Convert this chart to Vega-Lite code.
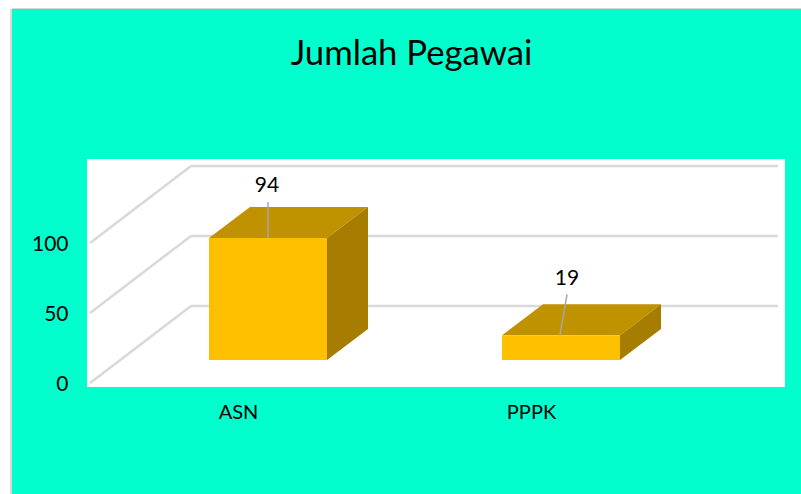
{
"$schema":"https://vega.github.io/schema/vega-lite/v6.json",
"width":789,"height":485,
"autosize":{"type":"none"},
"padding":{"left":12,"top":9,"right":0,"bottom":0},
"background":"#ffffff",
"view":{"fill":"#00FFCC","stroke":null},
"title":{"text":"Jumlah Pegawai","anchor":"middle","offset":-65,"dx":5,"font":"Lato","fontSize":34.7,"fontWeight":"normal","color":"#000000"},
"datasets":{
"pegawai":[{"kategori":"ASN","jumlah":94},{"kategori":"PPPK","jumlah":19}],
"grid":[{"nilai":0},{"nilai":50},{"nilai":100}]
},
"resolve":{"scale":{"x":"independent","y":"independent"}},
"layer":[
{
"data":{"name":"grid"},
"layer":[
{"mark":{"type":"rect","fill":"#ffffff"},
"encoding":{"x":{"datum":9.506,"type":"quantitative","scale":{"domain":[0,100],"range":[0,789]},"axis":null},"x2":{"datum":97.972},
"y":{"datum":160,"type":"quantitative","scale":{"domain":[-79.29,267.14],"nice":false,"zero":false},"axis":{"values":[0,50,100],"orient":"left","title":null,"domain":false,"ticks":false,"grid":false,"offset":-56,"labelPadding":0,"labelOffset":2,"labelFont":"Lato","labelFontSize":21,"labelColor":"#000000"}},"y2":{"datum":-2.857}}},
{"mark":{"type":"rule","stroke":"#d9d9d9","strokeWidth":2},"encoding":{"x":{"datum":-0.127,"type":"quantitative"}}},
{"mark":{"type":"rule","stroke":"#d9d9d9","strokeWidth":1},"encoding":{"y":{"datum":267.5,"type":"quantitative"}}},
{"mark":{"type":"rule","stroke":"#d9d9d9","strokeWidth":2.5,"yOffset":-77,"y2Offset":-77},
"encoding":{"x":{"datum":22.69,"type":"quantitative"},"x2":{"datum":97.08},"y":{"field":"nilai","type":"quantitative"}}},
{"mark":{"type":"point","shape":"M0 0L101 -77","size":4,"filled":false,"stroke":"#d9d9d9","strokeWidth":2.5,"opacity":1},
"encoding":{"x":{"datum":9.886,"type":"quantitative"},"y":{"field":"nilai","type":"quantitative"}}}
]
},
{
"data":{"name":"pegawai"},
"resolve":{"scale":{"shape":"independent"}},
"encoding":{
"x":{"field":"kategori","type":"nominal","scale":{"type":"point","domain":["ASN","PPPK"],"range":[256,549],"padding":0},"axis":{"orient":"bottom","title":null,"domain":false,"ticks":false,"grid":false,"labelAngle":0,"offset":-92,"labelPadding":0,"labelOffset":-30,"labelFont":"Lato","labelFontSize":20,"labelColor":"#000000"}},
"y":{"field":"jumlah","type":"quantitative","scale":{"domain":[-103.2,270.4],"nice":false,"zero":false},"axis":null}
},
"layer":[
{"mark":{"type":"point","shape":"M-59 0L-18 -31L100 -31L59 0Z","size":4,"filled":true,"fill":"#C19200","stroke":null,"opacity":1}},
{"mark":{"type":"point","size":4,"filled":true,"fill":"#A67D00","stroke":null,"opacity":1},
"encoding":{"shape":{"field":"kategori","type":"nominal","legend":null,"scale":{"domain":["ASN","PPPK"],"range":["M59 0L100 -31L100 91L59 122Z","M59 0L100 -31L100 -6.3L59 24.7Z"]}}}},
{"mark":{"type":"bar","fill":"#FFC000","width":118,"stroke":null},"encoding":{"y2":{"datum":0}}},
{"mark":{"type":"point","size":4,"filled":false,"stroke":"#a6a6a6","strokeWidth":1.5,"opacity":1},
"encoding":{"shape":{"field":"kategori","type":"nominal","legend":null,"scale":{"domain":["ASN","PPPK"],"range":["M0 0L0 -36","M-1 0L6 -41"]}}}},
{"transform":[{"filter":"datum.kategori === 'ASN'"}],
"mark":{"type":"text","font":"Lato","fontSize":21,"color":"#000000","dx":-1,"dy":-52},
"encoding":{"text":{"field":"jumlah","type":"quantitative"}}},
{"transform":[{"filter":"datum.kategori === 'PPPK'"}],
"mark":{"type":"text","font":"Lato","fontSize":21,"color":"#000000","dx":6,"dy":-56},
"encoding":{"text":{"field":"jumlah","type":"quantitative"}}}
]
}
]
}
